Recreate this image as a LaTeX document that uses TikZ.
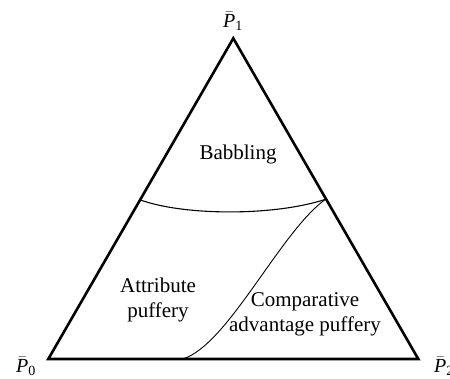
\documentclass[tikz,border=0pt]{standalone}
\usepackage{fontspec}
\setmainfont{Liberation Serif}
\begin{document}
\begin{tikzpicture}[x=1bp,y=-1bp,
  lbl/.style={font=\fontsize{21bp}{25bp}\selectfont, align=center, inner sep=0pt},
  vlbl/.style={font=\fontsize{20bp}{24bp}\selectfont, inner sep=0pt},
  edge/.style={line width=2.6bp, line join=miter},
  bound/.style={line width=0.9bp}]
\useasboundingbox (0,0) rectangle (450,378);
\coordinate (A) at (48.3,359);
\coordinate (T) at (233.3,38.3);
\coordinate (C) at (418.3,359);
\coordinate (L) at (140.5,200);
\coordinate (R) at (325.5,199.3);
\coordinate (B) at (182.7,359);
\draw[edge] (A) -- (T) -- (C) -- cycle;
\draw[bound, line width=1.1bp] (L) .. controls (185,216) and (275,216) .. (R);
\draw[bound] (B) .. controls (228,345) and (280,232) .. (R);
\node[vlbl] (p1) at (233,21) {$\bar{\mathit{P}}_{\mathrm{1}}$};
\node[vlbl] (p0) at (26,366) {$\bar{\mathit{P}}_{\mathrm{0}}$};
\node[vlbl] (p2) at (444,366) {$\bar{\mathit{P}}_{\mathrm{2}}$};
\node[lbl] (bab) at (238,154) {Babbling};
\node[lbl] (att) at (158,300) {Attribute\\puffery};
\node[lbl] (comp) at (305,314) {Comparative\\advantage puffery};
\end{tikzpicture}
\end{document}
